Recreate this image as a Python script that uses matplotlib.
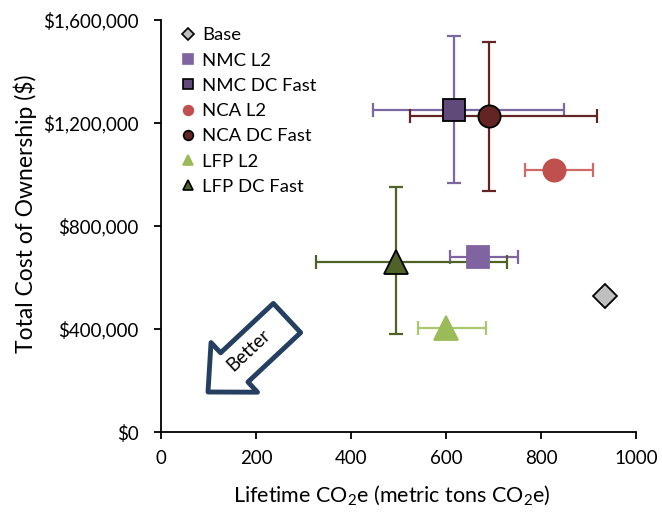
import numpy as np
import matplotlib
matplotlib.use("Agg")
import matplotlib.pyplot as plt
from matplotlib.lines import Line2D
from matplotlib.patches import Polygon
from matplotlib.ticker import FuncFormatter

plt.rcParams['font.family'] = ['Lato', 'DejaVu Sans']
plt.rcParams['mathtext.fontset'] = 'custom'
plt.rcParams['mathtext.rm'] = 'Lato'
plt.rcParams['mathtext.it'] = 'Lato:italic'

# ---- data ----
series = ["Base", "NMC L2", "NMC DC Fast", "NCA L2", "NCA DC Fast", "LFP L2", "LFP DC Fast"]
co2 = [935, 667, 617, 827, 691, 600, 495]
tco = [528000, 680000, 1250000, 1017000, 1227000, 404000, 660000]
co2_low = [None, 608, 446, 766, 524, 541, 326]
co2_high = [None, 752, 848, 910, 918, 684, 728]
tco_low = [None, None, 967000, None, 936000, None, 380000]
tco_high = [None, None, 1538000, None, 1515000, None, 951000]

markers = ["D", "s", "s", "o", "o", "^", "^"]
face = ["#BFBFBF", "#8064A2", "#604A7B", "#C0504D", "#632523", "#9BBB59", "#4F6228"]
edge = ["black", "#8064A2", "black", "#C0504D", "black", "#9BBB59", "black"]
ecol = [None, "#8064A2", "#7B68A0", "#D06A67", "#632523", "#A8C76E", "#4F6228"]
msize = [12, 16, 16, 16, 16, 17, 17]

fig = plt.figure(figsize=(6.62, 5.18), dpi=100)
ax = fig.add_axes([161/662, 1-432/518, 475/662, 412/518])

for i, name in enumerate(series):
    x, y = co2[i], tco[i]
    if co2_low[i] is not None:
        xerr = [[x - co2_low[i]], [co2_high[i] - x]]
        yerr = None
        if tco_low[i] is not None:
            yerr = [[y - tco_low[i]], [tco_high[i] - y]]
        ax.errorbar([x], [y], xerr=xerr, yerr=yerr, fmt='none', ecolor=ecol[i],
                    elinewidth=1.6, capsize=5, capthick=1.6, zorder=2)
for i, name in enumerate(series):
    ax.plot([co2[i]], [tco[i]], linestyle='none', marker=markers[i], markersize=msize[i],
            markerfacecolor=face[i], markeredgecolor=edge[i], markeredgewidth=1.3, zorder=3)

ax.set_xlim(0, 1000)
ax.set_ylim(0, 1600000)
ax.set_xticks([0, 200, 400, 600, 800, 1000])
ax.set_yticks([0, 400000, 800000, 1200000, 1600000])
ax.yaxis.set_major_formatter(FuncFormatter(lambda v, p: "${:,.0f}".format(v)))
for s in ['top', 'right']:
    ax.spines[s].set_visible(False)
for s in ['left', 'bottom']:
    ax.spines[s].set_linewidth(1.3)
ax.tick_params(direction='out', length=5, width=1.3, labelsize=13.5)
ax.tick_params(axis='y', pad=11)
ax.tick_params(axis='x', pad=8)
ax.set_xlabel(r'Lifetime CO$_2$e (metric tons CO$_2$e)', fontsize=15.5, va='top')
ax.set_ylabel('Total Cost of Ownership ($)', fontsize=16.5)
ax.xaxis.set_label_coords(0.486, -0.125)
ax.yaxis.set_label_coords(-0.262, 0.53)

handles = [Line2D([], [], linestyle='none', marker=markers[i], markersize=7 if markers[i] != 'D' else 6,
                  markerfacecolor=face[i], markeredgecolor=edge[i], markeredgewidth=1.2)
           for i in range(len(series))]
ax.legend(handles, series, loc='upper left', bbox_to_anchor=(0.025, 1.0), frameon=False,
          fontsize=13.3, handlelength=0.8, handletextpad=0.4, labelspacing=0.5, borderaxespad=0.0)

# "Better" arrow (pixel geometry -> figure fraction)
W, H = 662, 518
tail = np.array([287.0, 318.0])
tip = np.array([208.0, 392.0])
u = (tip - tail) / np.linalg.norm(tip - tail)
n = np.array([-u[1], u[0]])
hw, hh, hl = 20, 34, 36
hb = tip - u * hl
pts_px = [tail + n * hw, hb + n * hw, hb + n * hh, tip, hb - n * hh, hb - n * hw, tail - n * hw]
pts = [(p[0] / W, 1 - p[1] / H) for p in pts_px]
fig.patches.append(Polygon(pts, closed=True, transform=fig.transFigure, facecolor='white',
                           edgecolor='#243F60', linewidth=3.5, joinstyle='round', zorder=5))
ang = np.degrees(np.arctan2(74, 79))
fig.text(249 / W, 1 - 350 / H, 'Better', rotation=ang, ha='center', va='center',
         fontsize=13.5, rotation_mode='anchor', zorder=6)

fig.savefig('out.png', dpi=100)
